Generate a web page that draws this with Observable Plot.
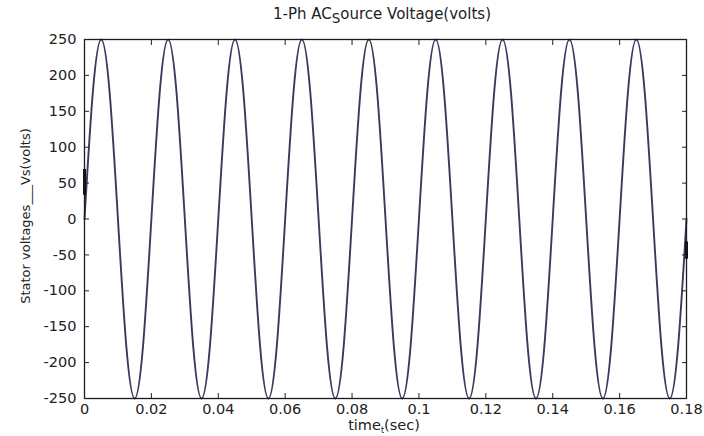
<!DOCTYPE html>
<html><head><meta charset="utf-8">
<script src="https://cdn.jsdelivr.net/npm/d3@7"></script>
<script src="https://cdn.jsdelivr.net/npm/@observablehq/plot@0.6"></script>
<style>body{margin:0;background:#fff} svg{display:block}</style>
</head><body><div id="chart"></div>
<script>
// time samples (ms) and source voltage (V)
const timeMs = [
  0, 2.5, 5, 7.5, 10, 12.5, 15, 17.5,
  20, 22.5, 25, 27.5, 30, 32.5, 35, 37.5,
  40, 42.5, 45, 47.5, 50, 52.5, 55, 57.5,
  60, 62.5, 65, 67.5, 70, 72.5, 75, 77.5,
  80, 82.5, 85, 87.5, 90, 92.5, 95, 97.5,
  100, 102.5, 105, 107.5, 110, 112.5, 115, 117.5,
  120, 122.5, 125, 127.5, 130, 132.5, 135, 137.5,
  140, 142.5, 145, 147.5, 150, 152.5, 155, 157.5,
  160, 162.5, 165, 167.5, 170, 172.5, 175, 177.5,
  180
];
const voltage = [
  0, 177, 250, 177, 0, -177, -250, -177,
  0, 177, 250, 177, 0, -177, -250, -177,
  0, 177, 250, 177, 0, -177, -250, -177,
  0, 177, 250, 177, 0, -177, -250, -177,
  0, 177, 250, 177, 0, -177, -250, -177,
  0, 177, 250, 177, 0, -177, -250, -177,
  0, 177, 250, 177, 0, -177, -250, -177,
  0, 177, 250, 177, 0, -177, -250, -177,
  0, 177, 250, 177, 0, -177, -250, -177,
  0
];
const xTicks = [0, 0.02, 0.04, 0.06, 0.08, 0.1, 0.12, 0.14, 0.16, 0.18];
const xTickLabels = ["0", "0.02", "0.04", "0.06", "0.08", "0.1", "0.12", "0.14", "0.16", "0.18"];
const yTicks = [-250, -200, -150, -100, -50, 0, 50, 100, 150, 200, 250];
const yTickLabels = ["-250", "-200", "-150", "-100", "-50", "0", "50", "100", "150", "200", "250"];
// short dark marks on the left and right box edges
const edgeT = [0, 0.18];
const edgeLo = [33, -56];
const edgeHi = [69, -32];
const titleParts = ["1-Ph AC", "S", "ource Voltage(volts)"];
const xLabelParts = ["time", "t", "(sec)"];
const yLabel = "Stator voltages___Vs(volts)";

const data = timeMs.map((t, i) => ({t: t / 1000, v: voltage[i]}));
const edges = edgeT.map((t, i) => ({t, lo: edgeLo[i], hi: edgeHi[i]}));
const xFmt = d => xTickLabels[xTicks.indexOf(d)];
const yFmt = d => yTickLabels[yTicks.indexOf(d)];
const none = () => "";

const font = "'DejaVu Sans', sans-serif";
const ink = "#1a1a1a";
const plot = Plot.plot({
  width: 704, height: 436,
  marginLeft: 84, marginRight: 18, marginTop: 39, marginBottom: 38,
  style: {fontFamily: font, fontSize: "14.5px", color: "#222", background: "#fff", overflow: "visible"},
  x: {domain: [0, 0.18], label: null},
  y: {domain: [-250, 250], label: null},
  marks: [
    Plot.line(data, {x: "t", y: "v", curve: "natural", stroke: "#3a3a5e", strokeWidth: 1.9}),
    Plot.ruleX(edges, {x: "t", y1: "lo", y2: "hi", stroke: "#111", strokeWidth: 3}),
    Plot.frame({stroke: ink, strokeWidth: 1.3}),
    // inward ticks on all four sides
    Plot.axisX(xTicks, {anchor: "bottom", tickSize: 5, dy: -5, tickFormat: none, label: null}),
    Plot.axisX(xTicks, {anchor: "top", tickSize: 5, dy: 5, tickFormat: none, label: null}),
    Plot.axisY(yTicks, {anchor: "left", tickSize: 5, dx: 5, tickFormat: none, label: null}),
    Plot.axisY(yTicks, {anchor: "right", tickSize: 5, dx: -5, tickFormat: none, label: null}),
    // tick labels
    Plot.axisX(xTicks, {anchor: "bottom", tickSize: 0, tickPadding: 5, label: null, tickFormat: xFmt}),
    Plot.axisY(yTicks, {anchor: "left", tickSize: 0, tickPadding: 8, label: null, tickFormat: yFmt})
  ]
});
document.getElementById("chart").append(plot);

const svg = d3.select(plot);
// title
const title = svg.append("text")
  .attr("x", 382).attr("y", 19)
  .attr("text-anchor", "middle")
  .style("font-family", font).style("font-size", "15px").attr("fill", "#222");
title.append("tspan").text(titleParts[0]);
title.append("tspan").attr("dy", 4).style("font-size", "13.5px").text(titleParts[1]);
title.append("tspan").attr("dy", -4).text(titleParts[2]);

// x label
const xl = svg.append("text")
  .attr("x", 384).attr("y", 430)
  .attr("text-anchor", "middle")
  .style("font-family", font).style("font-size", "14.5px").attr("fill", "#222");
xl.append("tspan").text(xLabelParts[0]);
xl.append("tspan").attr("dy", 3).style("font-size", "8px").text(xLabelParts[1]);
xl.append("tspan").attr("dy", -3).text(xLabelParts[2]);

// y label
svg.append("text")
  .attr("transform", "translate(30,216) rotate(-90)")
  .attr("text-anchor", "middle")
  .style("font-family", font).style("font-size", "13px").attr("fill", "#222")
  .text(yLabel);
</script>
</body></html>
